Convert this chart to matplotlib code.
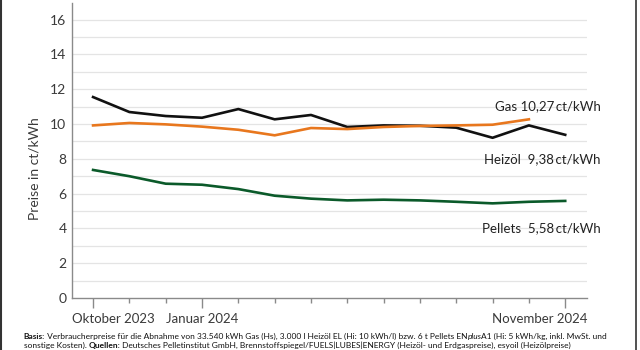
import matplotlib
matplotlib.use("Agg")
import matplotlib.pyplot as plt
from matplotlib.lines import Line2D

plt.rcParams["font.family"] = ["Lato", "DejaVu Sans"]

# Monthly prices in ct/kWh, October 2023 .. November 2024
months = ["Okt 23", "Nov 23", "Dez 23", "Jan 24", "Feb 24", "Mär 24", "Apr 24",
          "Mai 24", "Jun 24", "Jul 24", "Aug 24", "Sep 24", "Okt 24", "Nov 24"]
heizoel = [11.55, 10.69, 10.46, 10.36, 10.86, 10.27, 10.52,
           9.83, 9.92, 9.90, 9.79, 9.21, 9.92, 9.38]
gas = [9.92, 10.06, 9.98, 9.85, 9.67, 9.35, 9.77,
       9.71, 9.83, 9.89, 9.92, 9.96, 10.27]
pellets = [7.36, 7.00, 6.57, 6.51, 6.26, 5.88, 5.71,
           5.61, 5.65, 5.61, 5.53, 5.44, 5.53, 5.58]

long_ticks = [0, 3, 13]
end_labels = [
    ("Gas 10,27\u2009ct/kWh", 11.0),
    ("Heizöl  9,38\u2009ct/kWh", 7.97),
    ("Pellets  5,58\u2009ct/kWh", 4.0),
]

INK = "#3a3a3a"
GRID = "#e4e4e4"
AXIS = "#8a8a8a"

fig = plt.figure(figsize=(6.4, 3.5), dpi=100)
ax = fig.add_axes([0.1125, 0.1486, 0.8047, 0.8425])

x = list(range(len(months)))
ax.plot(x, heizoel, color="#111111", lw=1.9, zorder=3)
ax.plot(x[:len(gas)], gas, color="#e8771e", lw=1.9, zorder=4)
ax.plot(x, pellets, color="#0b5a2a", lw=1.9, zorder=3)

ax.set_xlim(-0.58, 13.6)
ax.set_ylim(0, 16.95)

# grid every unit, labels every two
for v in range(1, 17):
    ax.axhline(v, color=GRID, lw=0.9, zorder=1)
ax.set_yticks(range(0, 17, 2))
ax.tick_params(axis="y", length=0, labelsize=10, labelcolor=INK, pad=4)

ax.set_xticks(x)
ax.set_xticklabels([])
ax.tick_params(axis="x", length=3.6, width=1, color=AXIS)
for i, tick in enumerate(ax.xaxis.get_major_ticks()):
    if i in long_ticks:
        tick.tick1line.set_markersize(7.2)

# first and last labels sit flush with the axis ends
ax.text(0.0, -0.071, "Oktober 2023", transform=ax.transAxes, ha="left",
        va="center", fontsize=9.5, color=INK)
ax.text(3, -0.071, "Januar 2024", transform=ax.get_xaxis_transform(),
        ha="center", va="center", fontsize=9.5, color=INK)
ax.text(1.0, -0.071, "November 2024", transform=ax.transAxes, ha="right",
        va="center", fontsize=9.5, color=INK)

for side in ["top", "right"]:
    ax.spines[side].set_visible(False)
for side in ["left", "bottom"]:
    ax.spines[side].set_color(AXIS)
    ax.spines[side].set_linewidth(1)

ax.set_ylabel("Preise in ct/kWh", fontsize=10, color=INK)
ax.yaxis.set_label_coords(-0.062, 0.44)

for text, y in end_labels:
    ax.text(13.98, y, text, ha="right", va="center", fontsize=9.5,
            color="#222222", clip_on=False)

# footer with bold run-in words, placed piece by piece
foot_lines = [
    [("Basis:", "bold", "normal"),
     (" Verbraucherpreise für die Abnahme von 33.540 kWh Gas (Hs), 3.000 l Heizöl EL "
      "(Hi: 10 kWh/l) bzw. 6 t Pellets EN", "normal", "normal"),
     ("plus", "normal", "italic"),
     ("A1 (Hi: 5 kWh/kg, inkl. MwSt. und", "normal", "normal")],
    [("sonstige Kosten). ", "normal", "normal"),
     ("Quellen:", "bold", "normal"),
     (" Deutsches Pelletinstitut GmbH, Brennstoffspiegel/FUELS|LUBES|ENERGY "
      "(Heizöl- und Erdgaspreise), esyoil (Heizölpreise)", "normal", "normal")],
]
renderer = fig.canvas.get_renderer()


def place_row(row, y, size):
    xpos = 0.037
    artists = []
    for text, weight, style in row:
        t = fig.text(xpos, y, text, fontsize=size, color="#111111", ha="left",
                     va="baseline", fontweight=weight, fontstyle=style)
        xpos += t.get_window_extent(renderer).width / fig.bbox.width
        artists.append(t)
    return xpos, artists


# shrink the footer until the first line ends where the reference's does
size = 7.0
while True:
    end, arts = place_row(foot_lines[0], 0.031, size)
    if end <= 0.958 or size < 5:
        break
    for a in arts:
        a.remove()
    size -= 0.1
place_row(foot_lines[1], 0.005, size)

# frame lines at the image edges
fig.add_artist(Line2D([0.001, 0.001], [0, 1], color="#333333", lw=1.5,
                      transform=fig.transFigure))
fig.add_artist(Line2D([0.993, 0.993], [0, 1], color="#333333", lw=1.2,
                      transform=fig.transFigure))

fig.savefig("out.png", dpi=100)
